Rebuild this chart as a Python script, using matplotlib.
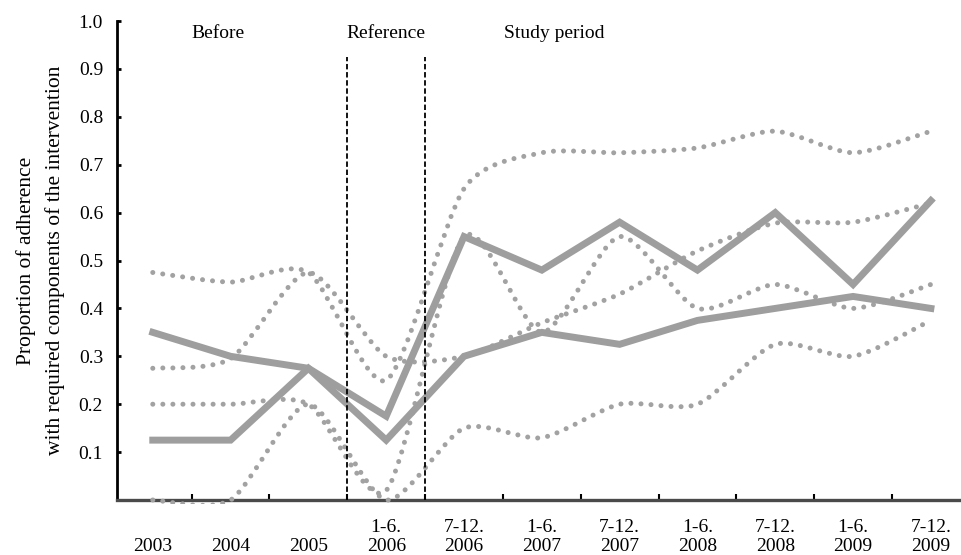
import numpy as np
import matplotlib
matplotlib.use("Agg")
import matplotlib.pyplot as plt
from matplotlib.path import Path
from matplotlib.patches import PathPatch, Rectangle

plt.rcParams['font.family'] = ['Liberation Serif', 'DejaVu Serif']

# periods on the x axis
periods = ['\n2003', '\n2004', '\n2005', '1-6.\n2006', '7-12.\n2006', '1-6.\n2007',
           '7-12.\n2007', '1-6.\n2008', '7-12.\n2008', '1-6.\n2009', '7-12.\n2009']

# solid series
solid_a = [0.35, 0.30, 0.275, 0.175, 0.55, 0.48, 0.58, 0.48, 0.60, 0.45, 0.625]
solid_b = [0.125, 0.125, 0.275, 0.125, 0.30, 0.35, 0.325, 0.375, 0.40, 0.425, 0.40]

# dotted (smoothed) series
dot_1 = [0.475, 0.455, 0.475, 0.25, 0.65, 0.725, 0.725, 0.735, 0.77, 0.725, 0.77]
dot_2 = [0.275, 0.295, 0.475, 0.30, 0.30, 0.37, 0.43, 0.52, 0.578, 0.58, 0.62]
dot_3 = [0.20, 0.20, 0.20, 0.02, 0.55, 0.35, 0.55, 0.40, 0.45, 0.40, 0.45]
dot_4 = [0.0, 0.0, 0.20, 0.0, 0.15, 0.13, 0.20, 0.20, 0.325, 0.30, 0.375]

yticks = [0.1, 0.2, 0.3, 0.4, 0.5, 0.6, 0.7, 0.8, 0.9, 1.0]
phase_names = ['Before', 'Reference', 'Study period']


def smooth_path(x, y, k=8.0):
    # cubic bezier through the points, like a spreadsheet "smoothed line"
    pts = np.column_stack([x, y]).astype(float)
    n = len(pts)
    verts = [pts[0]]
    codes = [Path.MOVETO]
    for i in range(n - 1):
        p0 = pts[i - 1] if i > 0 else pts[i]
        p1 = pts[i]
        p2 = pts[i + 1]
        p3 = pts[i + 2] if i + 2 < n else pts[i + 1]
        c1 = p1 + (p2 - p0) / k
        c2 = p2 - (p3 - p1) / k
        verts += [c1, c2, p2]
        codes += [Path.CURVE4] * 3
    return Path(verts, codes)


fig = plt.figure(figsize=(9.62, 5.55), dpi=100)
ax = fig.add_axes([0.1216, 0.0991, 0.8865, 0.863])

x = np.arange(len(periods))

# keep the dotted curves from dipping under the axis
clip = Rectangle((-1, -0.008), 13, 1.2, transform=ax.transData)

for ys in [dot_1, dot_2, dot_3, dot_4]:
    p = smooth_path(x, ys)
    dots = PathPatch(p, fill=False, edgecolor='#a2a2a2', lw=3.6,
                     linestyle=(0, (0.01, 2.0)), capstyle='round', zorder=3)
    ax.add_patch(dots)
    dots.set_clip_path(clip)

for ys in [solid_a, solid_b]:
    ax.plot(x, ys, color='#9e9e9e', lw=5.0, solid_joinstyle='miter', zorder=4)

# phase separators
for xv in [2.5, 3.5]:
    ax.plot([xv, xv], [0, 0.925], color='black', lw=1.3, linestyle=(0, (3, 1.5)), zorder=5)

ax.text(0.84, 0.975, phase_names[0], ha='center', va='center', fontsize=14)
ax.text(3.0, 0.975, phase_names[1], ha='center', va='center', fontsize=14)
ax.text(4.52, 0.975, phase_names[2], ha='left', va='center', fontsize=14)

ax.set_xlim(-0.46, 10.5)
ax.set_ylim(0, 1.0)

ax.set_yticks(yticks)
ax.set_yticklabels(['%.1f' % v for v in yticks])
ax.set_xticks(x)
ax.set_xticklabels(periods, linespacing=1.1)
ax.set_xticks(np.arange(0.5, len(periods) - 0.5, 1.0), minor=True)

ax.tick_params(axis='y', direction='in', length=3, width=2, labelsize=14, pad=10)
ax.tick_params(axis='x', which='major', length=0, labelsize=14, pad=14)
ax.tick_params(axis='x', which='minor', direction='in', length=4, width=1.5)

ax.set_ylabel('Proportion of adherence\nwith required components of the intervention',
              fontsize=15.5, labelpad=10, linespacing=1.6)

for s in ['top', 'right']:
    ax.spines[s].set_visible(False)
ax.spines['left'].set_linewidth(2.0)
ax.spines['left'].set_color('black')
ax.spines['bottom'].set_linewidth(2.4)
ax.spines['bottom'].set_color('#4a4a4a')

fig.savefig('out.png', dpi=100, facecolor='white')
